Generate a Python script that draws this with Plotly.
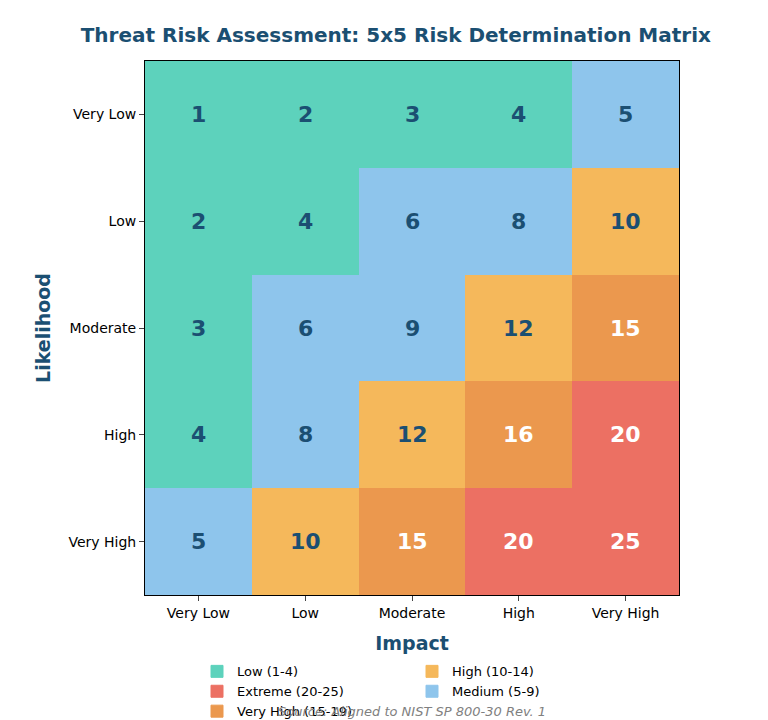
import plotly.graph_objects as go

impact = ["Very Low", "Low", "Moderate", "High", "Very High"]
likelihood = ["Very Low", "Low", "Moderate", "High", "Very High"]
scores = [[1, 2, 3, 4, 5],
          [2, 4, 6, 8, 10],
          [3, 6, 9, 12, 15],
          [4, 8, 12, 16, 20],
          [5, 10, 15, 20, 25]]
levels = ["Low (1-4)", "Medium (5-9)", "High (10-14)", "Very High (15-19)", "Extreme (20-25)"]
level_colors = ["#5DD2BC", "#8EC5EC", "#F5B85B", "#EB984E", "#EC7063"]

def level(v):
    return 0 if v <= 4 else 1 if v <= 9 else 2 if v <= 14 else 3 if v <= 19 else 4

z = [[level(v) for v in row] for row in scores]
cs = []
for i, c in enumerate(level_colors):
    cs += [[i / 5, c], [(i + 1) / 5, c]]

fig = go.Figure()
fig.add_trace(go.Heatmap(z=z, x=impact, y=likelihood, zmin=-0.5, zmax=4.5,
                         colorscale=cs, showscale=False, hoverinfo="skip"))
for r, row in enumerate(scores):
    for c, v in enumerate(row):
        fig.add_annotation(x=impact[c], y=likelihood[r], text=f"<b>{v}</b>", showarrow=False,
                           font=dict(size=22, color="white" if v >= 15 else "#1B4F72",
                                     family="DejaVu Sans"))
for i in [0, 2, 4, 1, 3]:
    fig.add_trace(go.Bar(x=[None], y=[None], name=levels[i], marker_color=level_colors[i],
                         marker_line=dict(color=level_colors[i], width=1)))

fig.update_layout(
    width=768, height=720, plot_bgcolor="white", paper_bgcolor="white",
    font=dict(family="DejaVu Sans", size=14, color="black"),
    margin=dict(l=137, r=97, t=53, b=133, autoexpand=False),
    title=dict(text="<b>Threat Risk Assessment: 5x5 Risk Determination Matrix</b>",
               x=0.505, xref="container", xanchor="center", y=0.972, font=dict(size=20, color="#1B4F72")),
    xaxis=dict(title=dict(text="<b>Impact</b>", font=dict(size=19, color="#1B4F72"), standoff=16),
               showline=True, linecolor="black", mirror=True, ticks="outside", ticklen=5,
               showgrid=False),
    yaxis=dict(title=dict(text="<b>Likelihood</b>", font=dict(size=19, color="#1B4F72"), standoff=12),
               autorange="reversed", showline=True, linecolor="black", mirror=True,
               ticks="outside", ticklen=5, showgrid=False),
    legend=dict(orientation="h", x=0.5, xanchor="center", y=-0.115, yanchor="top",
                entrywidth=170, tracegroupgap=0, font=dict(size=13)),
)
fig.add_annotation(text="<i>Source: Aligned to NIST SP 800-30 Rev. 1</i>", xref="paper", yref="paper",
                   x=0.5, y=-0.2, yanchor="top", showarrow=False, font=dict(size=13, color="gray"))
fig.write_html("out.html")
